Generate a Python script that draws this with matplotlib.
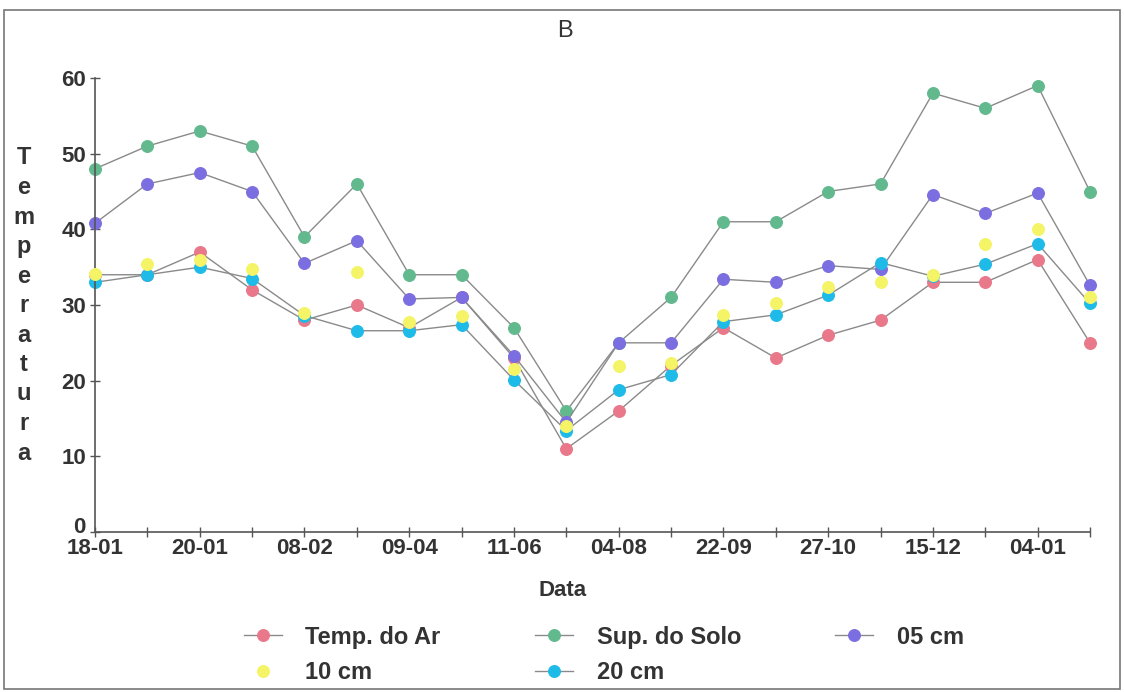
import matplotlib.pyplot as plt
from matplotlib.patches import Rectangle
from matplotlib.transforms import ScaledTranslation

# --------------------------------
# Data
# --------------------------------

dates = [
    "18-01", "", "20-01", "", "08-02", "", "09-04", "", "11-06", "",
    "04-08", "", "22-09", "", "27-10", "", "15-12", "", "04-01", "",
]

temp_ar = [34, 34, 37, 32, 28, 30, 27, 31, 23, 11,
           16, 22, 27, 23, 26, 28, 33, 33, 36, 25]

sup_solo = [48, 51, 53, 51, 39, 46, 34, 34, 27, 16,
            25, 31, 41, 41, 45, 46, 58, 56, 59, 45]

cm05 = [40.8, 46, 47.5, 45, 35.5, 38.5, 30.8, 31, 23.3, 14.5,
        25, 25, 33.4, 33, 35.2, 34.7, 44.6, 42.1, 44.8, 32.6]

cm10 = [34.1, 35.4, 36, 34.7, 28.9, 34.4, 27.8, 28.6, 21.5, 14,
        22, 22.4, 28.7, 30.3, 32.4, 33, 34, 38, 40, 31]

cm20 = [33, 34, 35, 33.5, 28.6, 26.6, 26.6, 27.4, 20.1, 13.4,
        18.8, 20.8, 27.8, 28.7, 31.3, 35.6, 33.8, 35.4, 38.1, 30.2]

x = list(range(len(dates)))

TXT = "#333333"
LINE = "#8a8a8a"

plt.rcParams["font.family"] = ["Liberation Sans", "DejaVu Sans"]

# --------------------------------
# Figure
# --------------------------------

fig = plt.figure(figsize=(11.24, 6.92), dpi=100)

fig.patches.append(
    Rectangle((4 / 1124, 1 - 689 / 692), 1116 / 1124, 679 / 692,
              transform=fig.transFigure, fill=False,
              edgecolor="#777777", linewidth=1.2)
)

ax = fig.add_axes([95 / 1124, 1 - 532 / 692, 995 / 1124, 454 / 692])


def series(vals, color, label, line=True):
    return ax.plot(
        x, vals,
        color=LINE if line else "none",
        linewidth=1.0,
        marker="o",
        markersize=8.5,
        markerfacecolor=color,
        markeredgecolor=color,
        markeredgewidth=0.8,
        label=label,
        clip_on=False,
    )[0]


h_ar = series(temp_ar, "#e8788a", "Temp. do Ar")
h_sup = series(sup_solo, "#62b98e", "Sup. do Solo")
h_05 = series(cm05, "#7b6ee0", "05 cm")
h_20 = series(cm20, "#1ebbe8", "20 cm")
h_10 = series(cm10, "#f4f466", "10 cm", line=False)

# yellow dots sit on top like in the scan
h_10.set_zorder(3)

ax.set_xlim(0, 19)
ax.set_ylim(0, 60)

ax.set_xticks(x)
ax.set_xticklabels(dates)
ax.set_yticks([0, 10, 20, 30, 40, 50, 60])

for s in ["top", "right"]:
    ax.spines[s].set_visible(False)
for s in ["left", "bottom"]:
    ax.spines[s].set_color("#555555")
    ax.spines[s].set_linewidth(1.2)

ax.tick_params(axis="both", direction="inout", length=7, width=1,
               color="#555555", labelcolor=TXT, labelsize=16)
ax.tick_params(axis="x", pad=1)
ax.tick_params(axis="y", pad=3)
for lab in ax.get_xticklabels() + ax.get_yticklabels():
    lab.set_fontweight("bold")

# lift the "0" a little so it clears the first date
zero = ax.get_yticklabels()[0]
zero.set_transform(
    zero.get_transform()
    + ScaledTranslation(0, 5 / 72, fig.dpi_scale_trans)
)

# --------------------------------
# Texts
# --------------------------------

fig.text(565 / 1124, 1 - 31 / 692, "B", ha="center", va="center",
         fontsize=17, color=TXT,
         family=["Liberation Sans Narrow", "Liberation Sans"])

fig.text(563 / 1124, 1 - 591 / 692, "Data", ha="center", va="center",
         fontsize=16, fontweight="bold", color=TXT)

for i, ch in enumerate("Temperatura"):
    fig.text(24 / 1124, 1 - (158 + i * 29.5) / 692, ch,
             ha="center", va="center", fontsize=17,
             fontweight="bold", color=TXT)

leg = fig.legend(
    [h_ar, h_10, h_sup, h_20, h_05],
    ["Temp. do Ar", "10 cm", "Sup. do Solo", "20 cm", "05 cm"],
    ncol=3,
    loc="center",
    bbox_to_anchor=(604 / 1124, 1 - 655 / 692),
    frameon=False,
    fontsize=17,
    handlelength=1.6,
    handletextpad=1.0,
    columnspacing=4.0,
    labelspacing=0.55,
)
for t in leg.get_texts():
    t.set_color(TXT)
    t.set_fontweight("bold")

fig.savefig("out.png", dpi=100)
